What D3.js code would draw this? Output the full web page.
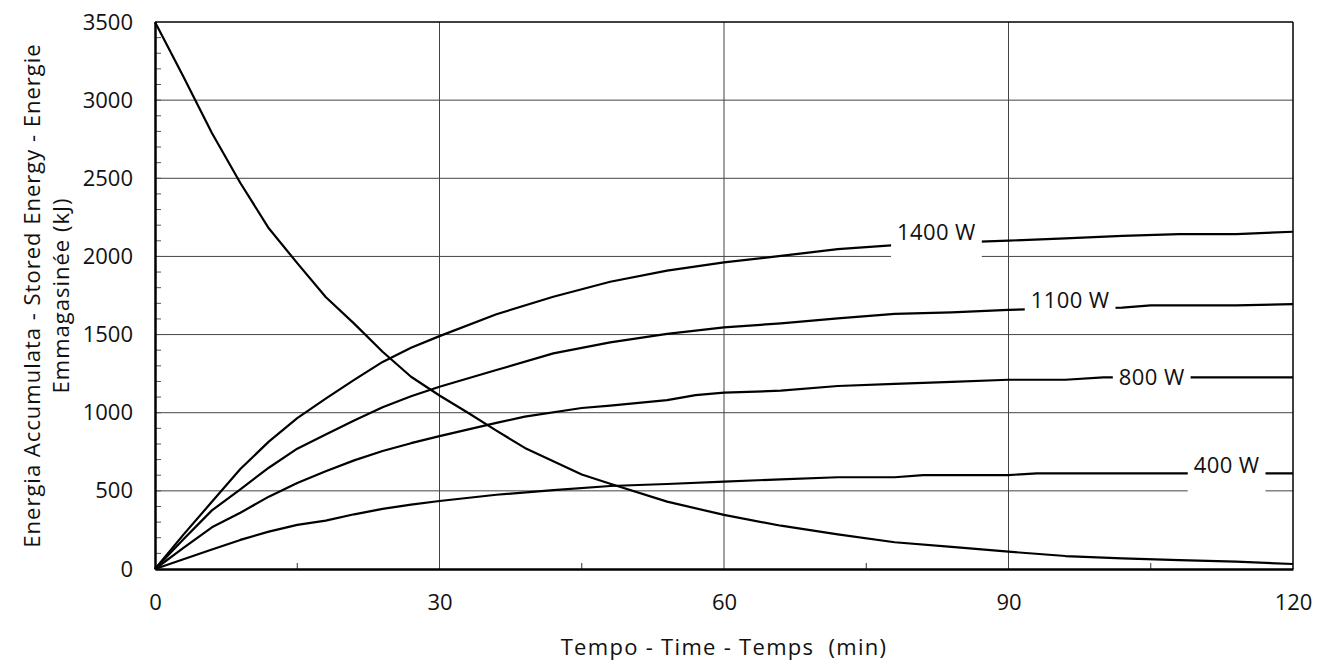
<!DOCTYPE html>
<html>
<head>
<style>
body { margin: 0; background: #fff; }
text { font-family: "Open Sans", Lato, sans-serif; fill: #111; }
.grid line { stroke: #444; stroke-width: 1; }
.curve { fill: none; stroke: #000; stroke-width: 2.2; stroke-linejoin: round; }
</style>
<script src="https://cdn.jsdelivr.net/npm/d3@7/dist/d3.min.js"></script>
</head>
<body>
<svg width="1317" height="662"></svg>
<script>

// tempo (min) / energia (kJ)
var scarica = [[0,3500],[3,3150],[6,2790],[9,2470],[12,2180],[15,1957],[18,1740],[21,1570],[24,1390],[27,1230],
  [30,1110],[33,1000],[36,885],[39,775],[42,690],[45,605],[48,545],[54,431],[60,346],[66,277],[72,222],
  [78,171],[84,141],[90,111],[96,83],[102,68],[108,57],[114,47],[120,32]];

var w1400 = [[0,0],[3,220],[6,430],[9,640],[12,815],[15,965],[18,1090],[21,1210],[24,1325],[27,1415],[30,1490],
  [36,1630],[42,1742],[48,1838],[54,1909],[60,1962],[66,2003],[72,2047],[78,2072],[84,2088],[90,2101],
  [96,2116],[102,2131],[108,2143],[114,2143],[120,2158]];

var w1100 = [[0,0],[3,190],[6,375],[9,510],[12,648],[15,770],[18,860],[21,950],[24,1035],[27,1105],[30,1166],
  [36,1273],[42,1380],[48,1450],[54,1504],[60,1546],[66,1572],[72,1604],[78,1632],[84,1642],[90,1658],
  [96,1668],[102,1672],[105,1687],[114,1687],[120,1695]];

var w800 = [[0,0],[3,135],[6,267],[9,360],[12,463],[15,550],[18,625],[21,695],[24,755],[27,805],[30,850],
  [36,935],[39,975],[45,1030],[48,1045],[54,1081],[57,1113],[60,1128],[66,1141],[72,1171],[78,1184],
  [84,1197],[90,1211],[96,1211],[100,1226],[108,1226],[114,1226],[120,1226]];

var w400 = [[0,0],[3,62],[6,125],[9,186],[12,239],[15,282],[18,310],[21,350],[24,385],[27,412],[30,435],
  [36,475],[42,505],[48,531],[54,544],[60,559],[66,574],[72,587],[78,587],[81,601],[90,601],[93,612],
  [108,612],[114,612],[120,612]];

var xTicks = [0, 30, 60, 90, 120];
var yTicks = [0, 500, 1000, 1500, 2000, 2500, 3000, 3500];
var labels = ["1400 W", "1100 W", "800 W", "400 W"];

var svg = d3.select("svg"),
    margin = {top: 22, right: 24, bottom: 93, left: 155},
    width = +svg.attr("width") - margin.left - margin.right,
    height = +svg.attr("height") - margin.top - margin.bottom;

var x = d3.scaleLinear().domain([0, 120]).range([0, width]),
    y = d3.scaleLinear().domain([0, 3500]).range([height, 0]);

var g = svg.append("g")
    .attr("transform", "translate(" + margin.left + "," + margin.top + ")");

// griglia
g.append("g").attr("class", "grid")
  .selectAll("line").data(yTicks.slice(1, -1)).enter().append("line")
    .attr("x1", 0).attr("x2", width)
    .attr("y1", function(d) { return y(d); }).attr("y2", function(d) { return y(d); });
g.append("g").attr("class", "grid")
  .selectAll("line").data(xTicks.slice(1, -1)).enter().append("line")
    .attr("y1", 0).attr("y2", height)
    .attr("x1", function(d) { return x(d); }).attr("x2", function(d) { return x(d); });

// tacche minori
g.append("g").selectAll("line").data(d3.range(100, 3500, 100)).enter().append("line")
    .attr("x1", 0).attr("x2", 6)
    .attr("y1", function(d) { return y(d); }).attr("y2", function(d) { return y(d); })
    .attr("stroke", "#555").attr("stroke-width", 1);
g.append("g").selectAll("line").data([15, 45, 75, 105]).enter().append("line")
    .attr("y1", height).attr("y2", height - 6)
    .attr("x1", function(d) { return x(d); }).attr("x2", function(d) { return x(d); })
    .attr("stroke", "#333").attr("stroke-width", 1);

// curve
var line = d3.line()
    .x(function(d) { return x(d[0]); })
    .y(function(d) { return y(d[1]); });

var serie = [w1400, w1100, w800, w400, scarica];
g.selectAll(".curve").data(serie).enter().append("path")
    .attr("class", "curve")
    .attr("d", line);

// etichette con sfondo bianco
var labelPos = [{t: 82.4, dy: -3}, {t: 96.5, dy: 0}, {t: 105.1, dy: 8}, {t: 113, dy: 0}];
labels.forEach(function(txt, i) {
  var s = serie[i], p = labelPos[i];
  var j = d3.bisector(function(d) { return d[0]; }).left(s, p.t);
  var a = s[j - 1], b = s[j];
  var v = a[1] + (b[1] - a[1]) * (p.t - a[0]) / (b[0] - a[0]);
  var lg = g.append("g")
      .attr("transform", "translate(" + x(p.t) + "," + (y(v) + p.dy) + ")");
  var rect = lg.append("rect").attr("fill", "#fff");
  var t = lg.append("text")
      .attr("text-anchor", "middle")
      .style("font-size", "22px")
      .style("letter-spacing", "0.4px")
      .text(txt);
  var bb = t.node().getBBox();
  rect.attr("x", bb.x - 6).attr("width", bb.width + 12)
      .attr("y", -25).attr("height", 44);
});

// cornice e assi
g.append("line").attr("x1", 0).attr("x2", width).attr("y1", 0).attr("y2", 0)
    .attr("stroke", "#000").attr("stroke-width", 1.5);
g.append("line").attr("x1", width).attr("x2", width).attr("y1", 0).attr("y2", height)
    .attr("stroke", "#000").attr("stroke-width", 1.5);

g.append("g")
    .attr("transform", "translate(0," + height + ")")
    .call(d3.axisBottom(x).tickValues(xTicks).tickFormat(d3.format("d")).tickSize(0).tickPadding(25))
    .call(function(a) {
      a.select(".domain").attr("stroke", "#000").attr("stroke-width", 2.5);
      a.selectAll("text").style("font-size", "22px").attr("fill", "#111");
    });

g.append("g")
    .call(d3.axisLeft(y).tickValues(yTicks).tickFormat(d3.format("d")).tickSize(0).tickPadding(22))
    .call(function(a) {
      a.select(".domain").attr("stroke", "#000").attr("stroke-width", 2.5);
      a.selectAll("text").style("font-size", "22px").attr("fill", "#111");
    });

svg.append("text")
    .attr("x", margin.left + width / 2)
    .attr("y", 655)
    .attr("text-anchor", "middle")
    .style("font-size", "22px")
    .style("letter-spacing", "1.3px")
    .style("white-space", "pre")
    .text("Tempo - Time - Temps  (min)");

var yl = svg.append("text")
    .attr("transform", "translate(0," + (margin.top + height / 2) + ") rotate(-90)")
    .attr("text-anchor", "middle")
    .style("font-size", "22px")
    .style("letter-spacing", "1px");
yl.append("tspan").attr("x", 0).attr("y", 40).text("Energia Accumulata - Stored Energy - Energie");
yl.append("tspan").attr("x", 0).attr("y", 69).text("Emmagasinée (kJ)");

</script>
</body>
</html>
